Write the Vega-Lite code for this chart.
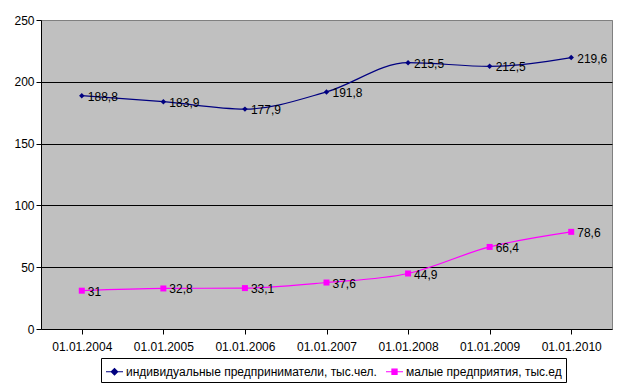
{
  "$schema": "https://vega.github.io/schema/vega-lite/v6.json",
  "width": 571,
  "height": 309,
  "autosize": {"type": "none"},
  "padding": {"left": 41, "top": 20, "right": 10, "bottom": 58},
  "background": "white",
  "config": {
    "view": {"fill": "#C0C0C0", "stroke": "#808080", "strokeWidth": 1},
    "font": "Liberation Sans",
    "axis": {"labelFont": "Liberation Sans", "labelColor": "black", "labelFontSize": 12, "domainColor": "black", "tickColor": "black", "title": null}
  },
  "data": {
    "values": [
      {"date": "01.01.2004", "series": "индивидуальные предприниматели, тыс.чел.", "value": 188.8, "label": "188,8"},
      {"date": "01.01.2005", "series": "индивидуальные предприниматели, тыс.чел.", "value": 183.9, "label": "183,9"},
      {"date": "01.01.2006", "series": "индивидуальные предприниматели, тыс.чел.", "value": 177.9, "label": "177,9"},
      {"date": "01.01.2007", "series": "индивидуальные предприниматели, тыс.чел.", "value": 191.8, "label": "191,8"},
      {"date": "01.01.2008", "series": "индивидуальные предприниматели, тыс.чел.", "value": 215.5, "label": "215,5"},
      {"date": "01.01.2009", "series": "индивидуальные предприниматели, тыс.чел.", "value": 212.5, "label": "212,5"},
      {"date": "01.01.2010", "series": "индивидуальные предприниматели, тыс.чел.", "value": 219.6, "label": "219,6"},
      {"date": "01.01.2004", "series": "малые предприятия, тыс.ед", "value": 31, "label": "31"},
      {"date": "01.01.2005", "series": "малые предприятия, тыс.ед", "value": 32.8, "label": "32,8"},
      {"date": "01.01.2006", "series": "малые предприятия, тыс.ед", "value": 33.1, "label": "33,1"},
      {"date": "01.01.2007", "series": "малые предприятия, тыс.ед", "value": 37.6, "label": "37,6"},
      {"date": "01.01.2008", "series": "малые предприятия, тыс.ед", "value": 44.9, "label": "44,9"},
      {"date": "01.01.2009", "series": "малые предприятия, тыс.ед", "value": 66.4, "label": "66,4"},
      {"date": "01.01.2010", "series": "малые предприятия, тыс.ед", "value": 78.6, "label": "78,6"}
    ]
  },
  "encoding": {
    "x": {
      "field": "date", "type": "ordinal",
      "scale": {"paddingInner": 0, "paddingOuter": 0},
      "axis": {"labelAngle": 0, "bandPosition": 0, "tickSize": 5, "labelPadding": 7, "grid": false, "domainWidth": 1}
    },
    "y": {
      "field": "value", "type": "quantitative",
      "scale": {"domain": [0, 250], "nice": false},
      "axis": {
        "values": [0, 50, 100, 150, 200, 250],
        "tickSize": 5, "labelPadding": 2, "domainWidth": 1,
        "grid": true,
        "gridColor": {"condition": {"test": "datum.value === 250 || datum.value === 0", "value": "#808080"}, "value": "black"},
        "gridOpacity": 1
      }
    }
  },
  "layer": [
    {
      "mark": {"type": "line", "interpolate": "monotone", "strokeWidth": 1.2},
      "encoding": {
        "color": {
          "field": "series", "type": "nominal",
          "scale": {"domain": ["индивидуальные предприниматели, тыс.чел.", "малые предприятия, тыс.ед"], "range": ["#000080", "#FF00FF"]},
          "legend": {
            "orient": "none", "legendX": 60, "legendY": 338,
            "direction": "horizontal", "columns": 2, "title": null,
            "strokeColor": "black", "padding": 4, "fillColor": "white",
            "labelFont": "Liberation Sans", "labelFontSize": 12, "labelColor": "black",
            "labelLimit": 400, "columnPadding": 6, "labelOffset": 2,
            "symbolSize": 289, "symbolStrokeWidth": 1.2,
            "symbolType": "M-1,0H1M-0.37,0L0,-0.37L0.37,0L0,0.37Z",
            "encode": {
              "symbols": {
                "update": {
                  "shape": {"signal": "datum.value === 'малые предприятия, тыс.ед' ? 'M-1,0H1M-0.3,-0.3H0.3V0.3H-0.3Z' : 'M-1,0H1M-0.37,0L0,-0.37L0.37,0L0,0.37Z'"},
                  "fill": {"signal": "datum.value === 'малые предприятия, тыс.ед' ? '#FF00FF' : '#000080'"},
                  "stroke": {"signal": "datum.value === 'малые предприятия, тыс.ед' ? '#FF00FF' : '#000080'"},
                  "strokeWidth": {"value": 1.2},
                  "size": {"value": 289},
                  "fillOpacity": {"value": 1},
                  "strokeOpacity": {"value": 1}
                }
              }
            }
          }
        }
      }
    },
    {
      "transform": [{"filter": "datum.series === 'индивидуальные предприниматели, тыс.чел.'"}],
      "mark": {"type": "point", "shape": "diamond", "filled": true, "opacity": 1, "size": 30, "color": "#000080"}
    },
    {
      "transform": [{"filter": "datum.series === 'малые предприятия, тыс.ед'"}],
      "mark": {"type": "point", "shape": "square", "filled": true, "opacity": 1, "size": 36, "color": "#FF00FF"}
    },
    {
      "mark": {"type": "text", "align": "left", "baseline": "middle", "dx": 6, "dy": 1, "fontSize": 12, "font": "Liberation Sans", "color": "black"},
      "encoding": {
        "text": {"field": "label"}
      }
    }
  ]
}
